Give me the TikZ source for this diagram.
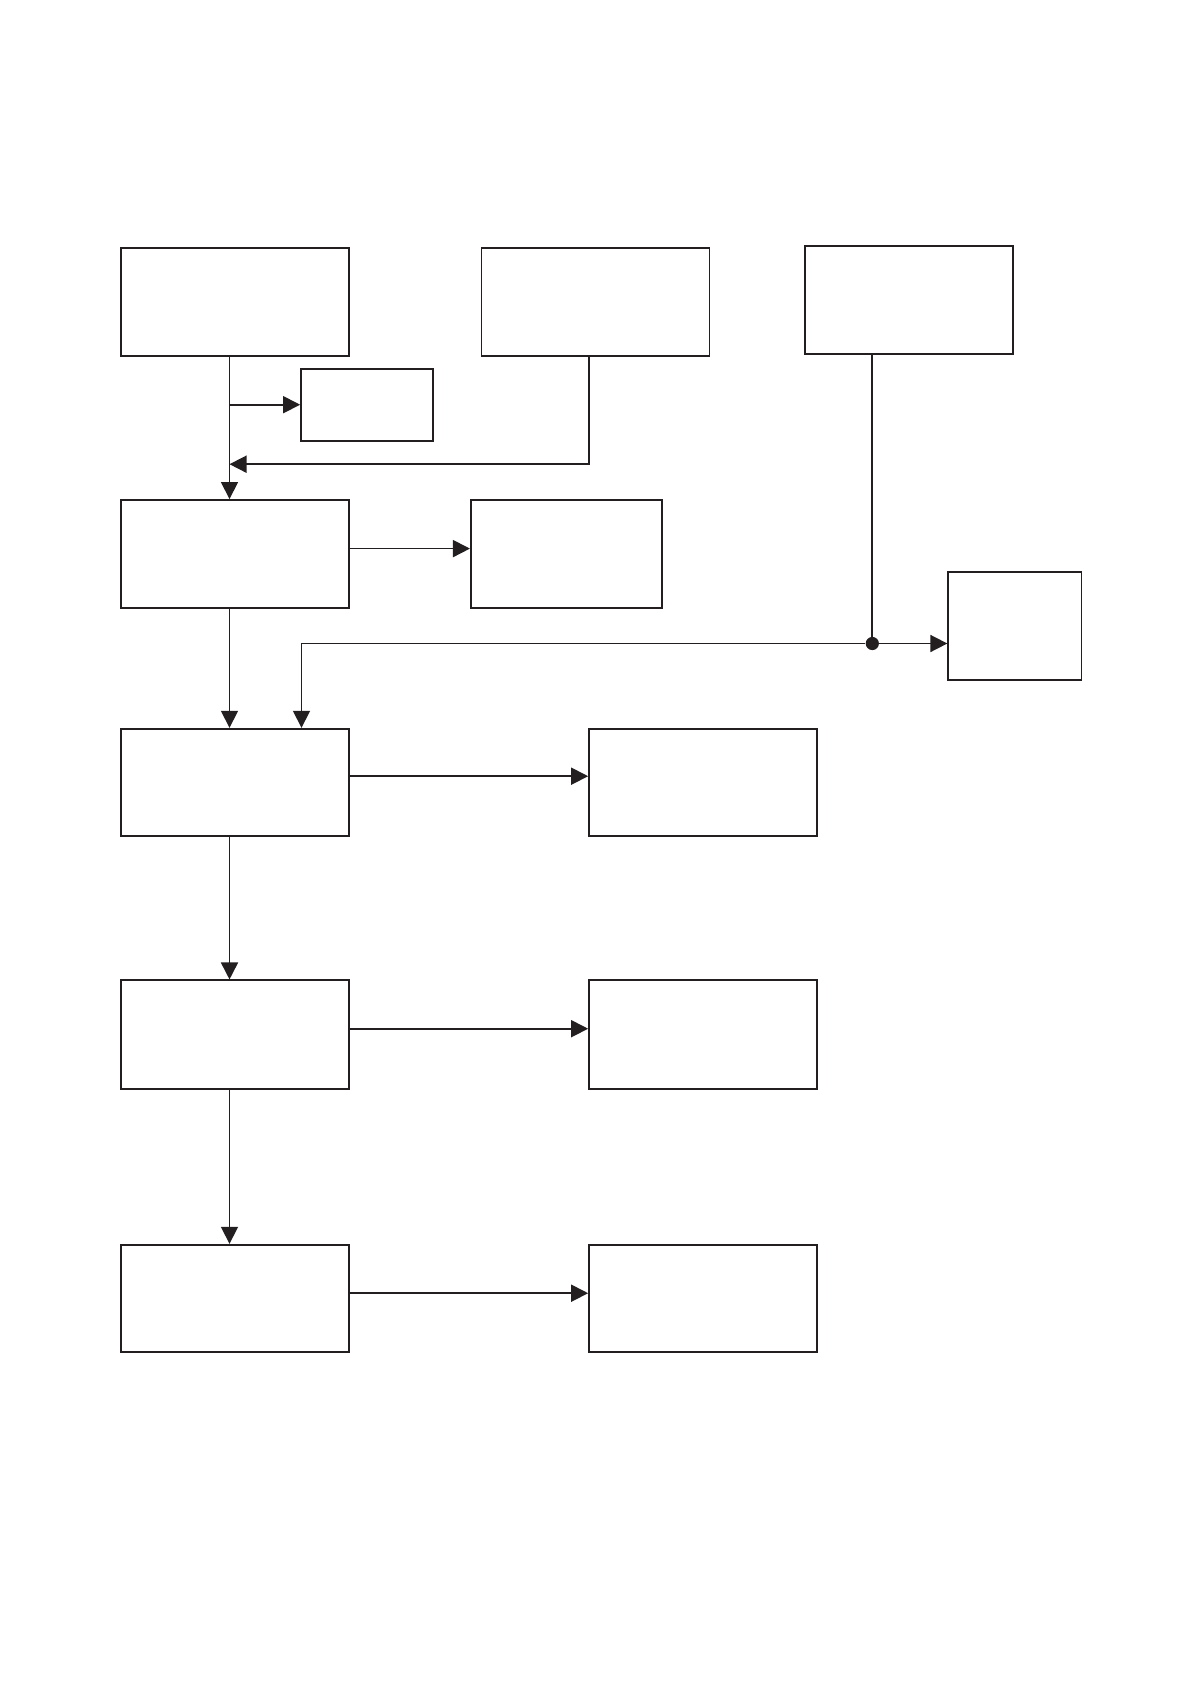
\documentclass[tikz,border=0pt]{standalone}
\usetikzlibrary{arrows.meta}
\definecolor{ink}{RGB}{35,31,32}
\begin{document}
\begin{tikzpicture}[x=0.5pt,y=-0.5pt,
  box/.style={draw=ink,line width=0.95pt,rectangle,inner sep=0pt,fill=white},
  wire/.style={draw=ink,line width=0.85pt},
  arr/.style={wire,-{Triangle[length=8.5pt,width=8.5pt]}},
  dotnode/.style={circle,fill=ink,inner sep=0pt,minimum size=6.6pt}]
\useasboundingbox (0,0) rectangle (1191,1685);
% boxes
\node[box,minimum width=114pt,minimum height=53.75pt] (A) at (235.4,302) {};
\node[box,minimum width=66pt,minimum height=36pt] (S) at (367.1,404.7) {};
\node[box,minimum width=114pt,minimum height=53.75pt] (C) at (595.5,302) {};
\node[box,minimum width=103.75pt,minimum height=53.75pt] (D) at (908.8,300) {};
\node[box,minimum width=114pt,minimum height=54.2pt] (B) at (235.4,554.2) {};
\node[box,minimum width=95.6pt,minimum height=54.2pt] (F) at (566.5,554.2) {};
\node[box,minimum width=66.6pt,minimum height=54.2pt] (E) at (1014.9,626.2) {};
\node[box,minimum width=114pt,minimum height=53.75pt] (G) at (235.4,782.5) {};
\node[box,minimum width=114pt,minimum height=53.75pt] (H) at (703.1,782.5) {};
\node[box,minimum width=114pt,minimum height=54.2pt] (I) at (235.4,1034.6) {};
\node[box,minimum width=114pt,minimum height=54.2pt] (J) at (703.1,1034.6) {};
\node[box,minimum width=114pt,minimum height=53.75pt] (K) at (235.4,1298.5) {};
\node[box,minimum width=114pt,minimum height=53.75pt] (L) at (703.1,1298.5) {};
% helper coordinates
\coordinate (mx) at (229.5,0);
\coordinate (m1) at (589.3,464.2);
\coordinate (r2) at (0,548.6);
\coordinate (r3) at (0,776.2);
\coordinate (r4) at (0,1028.7);
\coordinate (r5) at (0,1293.2);
\coordinate (bend) at (301.5,643.5);
\node[dotnode] (dot) at (872.3,643.5) {};
% connectors
\draw[arr] (A.south -| mx) -- (B.north -| mx);
\draw[arr] (S.west -| mx) -- (S.west);
\draw[arr] (C.south -| m1) -- (m1) -- (m1 -| mx);
\draw[arr] (B.east |- r2) -- (F.west |- r2);
\draw[wire] (D.south -| dot) -- (dot);
\draw[arr] (dot) -- (dot -| E.west);
\draw[arr] (dot) -- (bend) -- (G.north -| bend);
\draw[arr] (B.south -| mx) -- (G.north -| mx);
\draw[arr] (G.east |- r3) -- (H.west |- r3);
\draw[arr] (G.south -| mx) -- (I.north -| mx);
\draw[arr] (I.east |- r4) -- (J.west |- r4);
\draw[arr] (I.south -| mx) -- (K.north -| mx);
\draw[arr] (K.east |- r5) -- (L.west |- r5);
\end{tikzpicture}
\end{document}
